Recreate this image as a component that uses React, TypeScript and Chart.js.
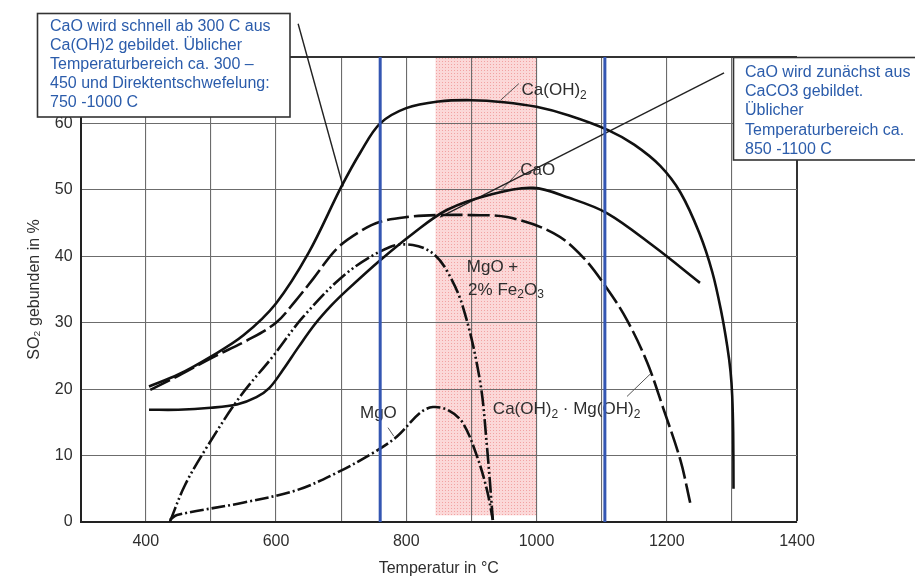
import { useEffect, useRef } from 'react';
import { Chart, registerables } from 'chart.js';

Chart.register(...registerables);

// ---------- data ----------
const caOH2T = [405, 450, 500, 550, 600, 650, 700, 730, 760, 800, 850, 900, 950, 1000, 1050, 1110, 1150, 1190, 1221, 1250, 1270, 1284, 1293, 1298, 1300.5, 1302, 1302.5];
const caOH2V = [20.4, 22.2, 24.9, 28.1, 32.9, 40.5, 50.4, 55.7, 60.0, 62.3, 63.3, 63.5, 63.2, 62.5, 61.2, 59.0, 56.8, 53.6, 49.6, 43.5, 37.6, 31.5, 26.4, 22.6, 19.0, 13.5, 5.0];

const caOT = [405, 450, 500, 540, 570, 590, 610, 635, 660, 685, 709, 760, 810, 863, 930, 995, 1050, 1108, 1180, 1251];
const caOV = [16.9, 16.9, 17.2, 17.7, 18.8, 20.2, 22.8, 26.4, 29.8, 32.6, 34.9, 39.4, 43.4, 47.0, 49.3, 50.3, 48.8, 46.5, 41.5, 36.0];

const caMgT = [407, 450, 503, 555, 600, 630, 657, 694, 730, 760, 800, 847, 900, 955, 1026, 1070, 1108, 1139, 1170, 1194, 1221, 1236];
const caMgV = [19.9, 22.0, 24.8, 27.3, 30.0, 33.3, 36.6, 41.2, 43.8, 45.2, 45.9, 46.2, 46.2, 45.9, 43.5, 40.0, 35.2, 30.4, 24.0, 17.3, 9.3, 2.9];

const mgoFeT = [437, 460, 494, 545, 595, 642, 709, 775, 810, 840, 862, 887, 913, 924, 933];
const mgoFeV = [0, 5.5, 11.3, 18.9, 24.9, 30.9, 37.5, 41.4, 41.7, 40.5, 37.9, 32.4, 21.4, 11.3, 0.3];

const mgoT = [437, 448, 549, 632, 693, 749, 785, 821, 841, 865, 887, 909, 924, 933];
const mgoV = [0.3, 1.05, 2.9, 4.8, 7.4, 10.4, 12.8, 16.4, 17.3, 16.8, 14.9, 9.8, 4.8, 0.3];

const xTicksLabelled = [400, 600, 800, 1000, 1200, 1400];
const yTicksLabelled = [0, 10, 20, 30, 40, 50, 60];

const blueLinesT = [760, 1105];
const pinkBandT = [845, 1000];
const pinkBandV = [1, 70];

// leader lines (data coordinates)
const leaderBoxLeftT = [634, 703];
const leaderBoxLeftV = [75.0, 50.5];
const leaderBoxRightT = [1288, 852];
const leaderBoxRightV = [67.6, 45.9];
const leaderCaOH2T = [945, 973];
const leaderCaOH2V = [63.5, 66.0];
const leaderCaOT = [946, 975];
const leaderCaOV = [49.9, 53.0];
const leaderMgOT = [772, 781];
const leaderMgOV = [14.2, 12.9];
const leaderCaMgT = [1139, 1175];
const leaderCaMgV = [18.9, 22.3];

// curve labels ("_d" = subscript digit)
const labelTexts = ['Ca(OH)_2', 'CaO', 'MgO +', '2% Fe_2O_3', 'MgO', 'Ca(OH)_2 · Mg(OH)_2'];
const labelT = [977, 975, 893, 895, 729, 933];
const labelV = [65.0, 53.0, 38.4, 34.9, 16.4, 16.9];

const boxLeftLines = ['CaO wird schnell ab 300 C aus', 'Ca(OH)2 gebildet. Üblicher', 'Temperaturbereich ca. 300 –', '450 und Direktentschwefelung:', '750 -1000 C'];
const boxRightLines = ['CaO wird zunächst aus', 'CaCO3 gebildet.', 'Üblicher', 'Temperaturbereich ca.', '850 -1100 C'];

const FONT = '"Liberation Sans", Arial, Helvetica, sans-serif';
const TEXT = '#2e2e2e';
const BLUE_TEXT = '#2b5cab';
const GRID = '#6c6c6c';

function pts(t: number[], v: number[]) {
  return t.map((x, i) => ({ x, y: v[i] }));
}

function drawRich(ctx: CanvasRenderingContext2D, text: string, x: number, y: number) {
  const parts = text.split(/_(\d)/);
  let cx = x;
  ctx.textBaseline = 'middle';
  ctx.textAlign = 'left';
  parts.forEach((p, i) => {
    const sub = i % 2 === 1;
    ctx.font = (sub ? '12px ' : '17px ') + FONT;
    ctx.fillText(p, cx, sub ? y + 5 : y);
    cx += ctx.measureText(p).width;
  });
}

function makePattern(ctx: CanvasRenderingContext2D) {
  const c = document.createElement('canvas');
  c.width = 3;
  c.height = 3;
  const g = c.getContext('2d')!;
  g.fillStyle = '#fbd8d8';
  g.fillRect(0, 0, 3, 3);
  g.fillStyle = '#f2a2a2';
  g.fillRect(1, 1, 1, 1);
  return ctx.createPattern(c, 'repeat');
}

const overlayPlugin = {
  id: 'overlay',
  beforeDraw(chart: any) {
    const { ctx, scales } = chart;
    const x = scales.x, y = scales.y;
    const x0 = x.getPixelForValue(pinkBandT[0]);
    const x1 = x.getPixelForValue(pinkBandT[1]);
    const y0 = y.getPixelForValue(pinkBandV[1]);
    const y1 = y.getPixelForValue(pinkBandV[0]);
    ctx.save();
    ctx.fillStyle = makePattern(ctx) || '#f8cccc';
    ctx.fillRect(x0, y0, x1 - x0, y1 - y0);
    ctx.restore();
  },
  beforeDatasetsDraw(chart: any) {
    const { ctx, scales } = chart;
    ctx.save();
    ctx.fillStyle = TEXT;
    labelTexts.forEach((t, i) => {
      drawRich(ctx, t, scales.x.getPixelForValue(labelT[i]), scales.y.getPixelForValue(labelV[i]));
    });
    ctx.restore();
  },
  afterDraw(chart: any) {
    const { ctx } = chart;
    ctx.save();
    const box = (bx: number, by: number, bw: number, bh: number, lines: string[], tx: number, ty: number, lh: number) => {
      ctx.fillStyle = '#ffffff';
      ctx.fillRect(bx, by, bw, bh);
      ctx.strokeStyle = '#333333';
      ctx.lineWidth = 1.6;
      ctx.strokeRect(bx, by, bw, bh);
      ctx.fillStyle = BLUE_TEXT;
      ctx.font = '16px ' + FONT;
      ctx.textBaseline = 'middle';
      ctx.textAlign = 'left';
      lines.forEach((l, i) => ctx.fillText(l, tx, ty + i * lh));
    };
    box(37.5, 13.5, 252.5, 103.5, boxLeftLines, 50, 26.5, 19);
    box(733.5, 57.5, 200, 102.5, boxRightLines, 745, 72.5, 19.2);
    ctx.restore();
  },
};

export default function App() {
  const ref = useRef<HTMLCanvasElement | null>(null);

  useEffect(() => {
    if (!ref.current) return;
    const curve = (data: any, dash: number[], width = 2.6) => ({
      data,
      borderColor: '#111111',
      borderWidth: width,
      borderDash: dash,
      pointRadius: 0,
      tension: 0.35,
      fill: false,
    });
    const straight = (data: any, color: string, width: number, order = 0) => ({
      data,
      borderColor: color,
      borderWidth: width,
      pointRadius: 0,
      tension: 0,
      fill: false,
      clip: false,
      order,
    });

    const chart = new Chart(ref.current, {
      type: 'line',
      data: {
        datasets: [
          ...blueLinesT.map((t) => straight([{ x: t, y: 0 }, { x: t, y: 70 }], '#3456b2', 3, -1)),
          curve(pts(caOH2T, caOH2V), []),
          curve(pts(caOT, caOV), []),
          curve(pts(caMgT, caMgV), [22, 5]),
          curve(pts(mgoFeT, mgoFeV), [16, 3, 2, 3, 2, 3]),
          curve(pts(mgoT, mgoV), [14, 3, 2, 3]),
          straight(pts(leaderBoxLeftT, leaderBoxLeftV), '#222222', 1.4),
          straight(pts(leaderBoxRightT, leaderBoxRightV), '#222222', 1.4),
          straight(pts(leaderCaOH2T, leaderCaOH2V), '#555555', 1),
          straight(pts(leaderCaOT, leaderCaOV), '#555555', 1),
          straight(pts(leaderMgOT, leaderMgOV), '#555555', 1),
          straight(pts(leaderCaMgT, leaderCaMgV), '#555555', 1),
        ] as any,
      },
      options: {
        animation: false,
        responsive: false,
        events: [],
        layout: { padding: { left: 0, top: 57, right: 118, bottom: 0 } },
        plugins: { legend: { display: false }, tooltip: { enabled: false } },
        scales: {
          x: {
            type: 'linear',
            min: 300,
            max: 1400,
            ticks: {
              stepSize: 100,
              autoSkip: false,
              maxRotation: 0,
              padding: 10,
              color: TEXT,
              font: { size: 16, family: FONT },
              callback: (v: any) => (xTicksLabelled.includes(Number(v)) ? String(v) : ''),
            },
            grid: {
              drawTicks: false,
              color: (c: any) => (c.tick && c.tick.value === 1400 ? '#333333' : GRID),
              lineWidth: (c: any) => (c.tick && c.tick.value === 1400 ? 2 : 1.1),
            },
            border: { color: '#222222', width: 2 },
            title: {
              display: true,
              text: 'Temperatur in °C',
              color: TEXT,
              font: { size: 16, family: FONT },
              padding: { top: 0, bottom: 7 },
            },
            afterFit: (s: any) => {
              s.height = 63;
            },
          },
          y: {
            min: 0,
            max: 70,
            ticks: {
              stepSize: 10,
              padding: 8,
              color: TEXT,
              font: { size: 16, family: FONT },
              callback: (v: any) => (yTicksLabelled.includes(Number(v)) ? String(v) : ''),
            },
            grid: {
              drawTicks: false,
              color: (c: any) => (c.tick && c.tick.value === 70 ? '#333333' : GRID),
              lineWidth: (c: any) => (c.tick && c.tick.value === 70 ? 2 : 1.1),
            },
            border: { color: '#222222', width: 2 },
            title: {
              display: true,
              text: 'SO₂ gebunden in %',
              color: TEXT,
              font: { size: 16, family: FONT },
              padding: { top: 25, bottom: 0 },
            },
            afterFit: (s: any) => {
              s.width = 80.6;
            },
          },
        },
      } as any,
      plugins: [overlayPlugin],
    });
    return () => chart.destroy();
  }, []);

  return (
    <div style={{ position: 'absolute', left: 0, top: 0, width: 915, height: 585, background: '#fff' }}>
      <canvas ref={ref} width={915} height={585} style={{ display: 'block' }} />
    </div>
  );
}
